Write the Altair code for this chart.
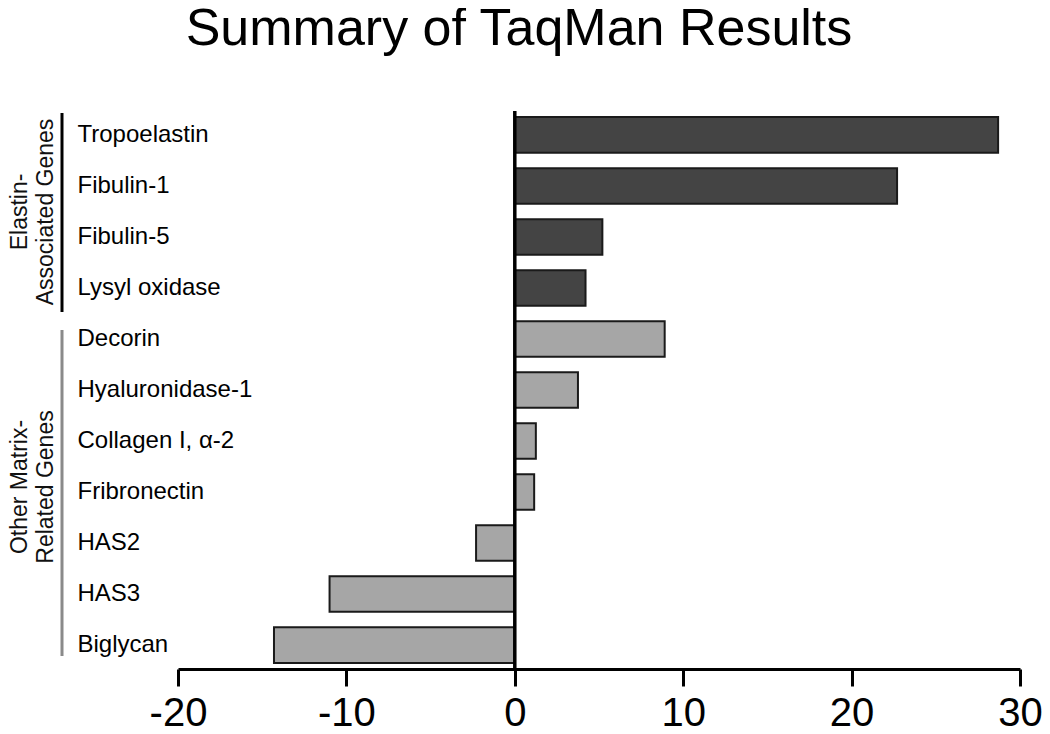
import altair as alt
import pandas as pd

genes = ["Tropoelastin", "Fibulin-1", "Fibulin-5", "Lysyl oxidase", "Decorin",
         "Hyaluronidase-1", "Collagen I, α-2", "Fribronectin", "HAS2", "HAS3", "Biglycan"]
values = [28.7, 22.7, 5.2, 4.2, 8.9, 3.75, 1.25, 1.15, -2.3, -11.0, -14.3]
groups = ["Elastin"] * 4 + ["Other"] * 7
x_ticks = [-20, -10, 0, 10, 20, 30]

group_names = ["Elastin", "Other"]
group_labels = ["Elastin-\nAssociated Genes", "Other Matrix-\nRelated Genes"]
group_first = ["Tropoelastin", "Decorin"]
group_last = ["Lysyl oxidase", "Biglycan"]
group_mid = ["Fibulin-1", "Fribronectin"]

df = pd.DataFrame({"gene": genes, "value": values, "group": groups})

FONT = "Liberation Sans"
W, H = 842, 558

yscale = alt.Scale(domain=genes, paddingInner=0.3, paddingOuter=0.12)

bars = alt.Chart(df).mark_bar(stroke="#1a1a1a", strokeWidth=2).encode(
    y=alt.Y("gene:N", scale=yscale, title=None,
            axis=alt.Axis(labelAlign="left", labelPadding=101, ticks=False, domain=False,
                          labelFontSize=24, labelFont=FONT, labelColor="black",
                          labelBaseline="middle", grid=False)),
    x=alt.X("value:Q", scale=alt.Scale(domain=[-20, 30], nice=False, zero=False),
            title=None,
            axis=alt.Axis(values=x_ticks, domainWidth=3, domainColor="black",
                          tickWidth=3, tickColor="black", tickSize=17,
                          labelFontSize=40, labelFont=FONT, labelColor="black",
                          labelExpr="'' + datum.value",
                          labelPadding=7, labelFlush=False, grid=False)),
    color=alt.Color("group:N", scale=alt.Scale(domain=group_names, range=["#444444", "#a6a6a6"]),
                    legend=None),
)

zero_line = alt.Chart(pd.DataFrame({"z": [0]})).mark_rule(color="black", strokeWidth=3.5).encode(
    x=alt.X("z:Q"), y=alt.value(0), y2=alt.value(H)
)

br1 = alt.Chart(pd.DataFrame({"a": [group_first[0]], "b": [group_last[0]]})).mark_rule(
    color="black", strokeWidth=3, yOffset=-22, y2Offset=24
).encode(x=alt.value(-116), y=alt.Y("a:N", scale=yscale), y2="b:N")

br2 = alt.Chart(pd.DataFrame({"a": [group_first[1]], "b": [group_last[1]]})).mark_rule(
    color="#8a8a8a", strokeWidth=3, yOffset=-9, y2Offset=11
).encode(x=alt.value(-116), y=alt.Y("a:N", scale=yscale), y2="b:N")

lab1 = alt.Chart(pd.DataFrame({"g": [group_mid[0]], "t": [group_labels[0]]})).mark_text(
    angle=270, align="center", baseline="middle", fontSize=23, lineHeight=26,
    font=FONT, color="#111111", lineBreak="\n", yOffset=26
).encode(x=alt.value(-158), y=alt.Y("g:N", scale=yscale), text="t:N")

lab2 = alt.Chart(pd.DataFrame({"g": [group_mid[1]], "t": [group_labels[1]]})).mark_text(
    angle=270, align="center", baseline="middle", fontSize=23, lineHeight=26,
    font=FONT, color="#111111", lineBreak="\n", yOffset=-5
).encode(x=alt.value(-158), y=alt.Y("g:N", scale=yscale), text="t:N")

chart = alt.layer(bars, zero_line, br1, br2, lab1, lab2).properties(
    width=W, height=H,
    title=alt.TitleParams("Summary of TaqMan Results", anchor="middle", dx=-80,
                          fontSize=52, font=FONT, fontWeight="normal", color="black",
                          offset=53),
    autosize=alt.AutoSizeParams(type="none"),
    padding={"left": 170, "top": 103, "right": 22, "bottom": 66},
).configure(background="white").configure_view(stroke=None)

chart.save("out.html", embed_options={"renderer": "svg", "actions": False})
